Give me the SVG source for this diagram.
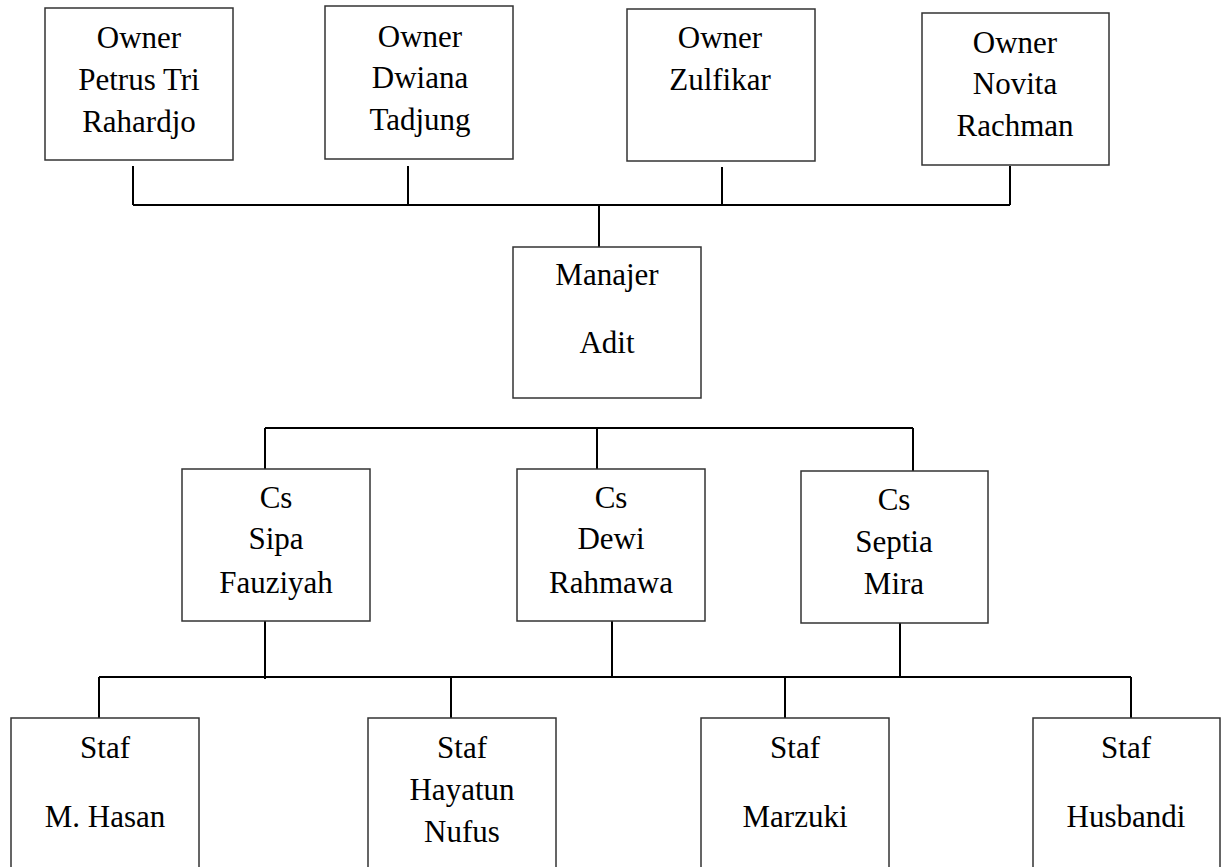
<svg xmlns="http://www.w3.org/2000/svg" width="1229" height="867" viewBox="0 0 1229 867">
<style>
.box{fill:#fff;stroke:#333;stroke-width:1.5}
.t{font-family:"Liberation Serif","Times New Roman",serif;font-size:31px;fill:#000;text-anchor:middle}
.c{fill:none;stroke:#000;stroke-width:2}
</style>
<rect width="1229" height="867" fill="#fff"/>
<g id="connectors">
<path class="c" d="M133 166V205M408 166V205M722 167V205M1010 166V205M133 205H1010M599 205V247"/>
<path class="c" d="M265 428H913M265 428V469M597 428V469M913 428V471"/>
<path class="c" d="M265 613V679M612 611V677M900 611V677M99 677H1131M99 677V718M451 677V718M785 677V718M1131 677V718"/>
</g>
<g id="owner1"><rect class="box" x="45" y="8" width="188" height="152"/><text class="t" x="139" y="48">Owner</text><text class="t" x="139" y="90">Petrus Tri</text><text class="t" x="139" y="132">Rahardjo</text></g>
<g id="owner2"><rect class="box" x="325" y="6" width="188" height="153"/><text class="t" x="420" y="47">Owner</text><text class="t" x="420" y="88">Dwiana</text><text class="t" x="420" y="130">Tadjung</text></g>
<g id="owner3"><rect class="box" x="627" y="9" width="188" height="152"/><text class="t" x="720" y="48">Owner</text><text class="t" x="720" y="90">Zulfikar</text></g>
<g id="owner4"><rect class="box" x="922" y="13" width="187" height="152"/><text class="t" x="1015" y="53">Owner</text><text class="t" x="1015" y="94">Novita</text><text class="t" x="1015" y="136">Rachman</text></g>
<g id="manajer"><rect class="box" x="513" y="247" width="188" height="151"/><text class="t" x="607" y="285">Manajer</text><text class="t" x="607" y="353">Adit</text></g>
<g id="cs1"><rect class="box" x="182" y="469" width="188" height="152"/><text class="t" x="276" y="508">Cs</text><text class="t" x="276" y="549">Sipa</text><text class="t" x="276" y="593">Fauziyah</text></g>
<g id="cs2"><rect class="box" x="517" y="469" width="188" height="152"/><text class="t" x="611" y="508">Cs</text><text class="t" x="611" y="549">Dewi</text><text class="t" x="611" y="593">Rahmawa</text></g>
<g id="cs3"><rect class="box" x="801" y="471" width="187" height="152"/><text class="t" x="894" y="510">Cs</text><text class="t" x="894" y="552">Septia</text><text class="t" x="894" y="594">Mira</text></g>
<g id="staf1"><rect class="box" x="11" y="718" width="188" height="160"/><text class="t" x="105" y="758">Staf</text><text class="t" x="105" y="827">M. Hasan</text></g>
<g id="staf2"><rect class="box" x="368" y="718" width="188" height="160"/><text class="t" x="462" y="758">Staf</text><text class="t" x="462" y="800">Hayatun</text><text class="t" x="462" y="842">Nufus</text></g>
<g id="staf3"><rect class="box" x="701" y="718" width="188" height="160"/><text class="t" x="795" y="758">Staf</text><text class="t" x="795" y="827">Marzuki</text></g>
<g id="staf4"><rect class="box" x="1033" y="718" width="187" height="160"/><text class="t" x="1126" y="758">Staf</text><text class="t" x="1126" y="827">Husbandi</text></g>
</svg>
